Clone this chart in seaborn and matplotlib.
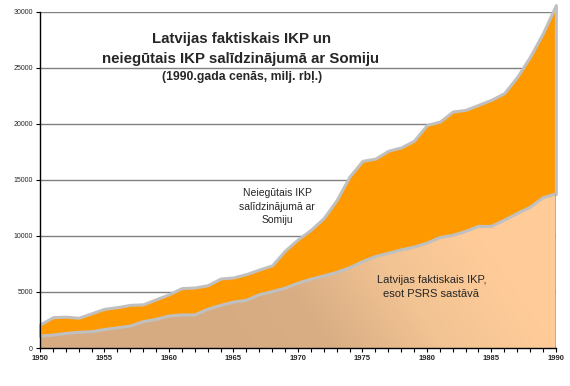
import numpy as np
import pandas as pd

import matplotlib
matplotlib.use("Agg")
import matplotlib.pyplot as plt
import seaborn as sns
from matplotlib.colors import LinearSegmentedColormap
from matplotlib.patches import Polygon

# ==========================================
# DATA (milj. rbl., 1990. gada cenas)
# ==========================================

years = list(range(1950, 1991))

# Latvijas faktiskais IKP, esot PSRS sastava
actual = [
    1070, 1150, 1300, 1400, 1450, 1650, 1800, 1950, 2350, 2550,
    2850, 2950, 2950, 3450, 3800, 4100, 4250, 4750, 5030, 5330,
    5780, 6130, 6430, 6750, 7150, 7700, 8150, 8450, 8750, 9000,
    9350, 9850, 10050, 10400, 10850, 10850, 11400, 12000, 12550, 13400,
    13750
]

# faktiskais + neiegutais IKP (salidzinajuma ar Somiju)
potential = [
    2100, 2750, 2800, 2700, 3100, 3500, 3650, 3850, 3900, 4350,
    4800, 5350, 5400, 5600, 6200, 6300, 6600, 7000, 7380, 8700,
    9700, 10550, 11600, 13200, 15300, 16700, 16900, 17600, 17900, 18500,
    19900, 20200, 21100, 21250, 21700, 22150, 22750, 24200, 26000, 28100,
    30600
]

y_ticks = [0, 5000, 10000, 15000, 20000, 25000, 30000]
x_ticks = [1950, 1955, 1960, 1965, 1970, 1975, 1980, 1985, 1990]

title_lines = [
    "Latvijas faktiskais IKP un",
    "neiegūtais IKP salīdzinājumā ar Somiju",
]
subtitle = "(1990.gada cenās, milj. rbļ.)"
label_gap = "Neiegūtais IKP\nsalīdzinājumā ar\nSomiju"
label_actual = "Latvijas faktiskais IKP,\nesot PSRS sastāvā"

df = pd.DataFrame({
    "year": years,
    "actual": actual,
    "potential": potential
})

# ==========================================
# FIGURE
# ==========================================

sns.set_style("white")
plt.rcParams["font.family"] = ["Liberation Sans", "DejaVu Sans"]

fig = plt.figure(figsize=(5.70, 3.86), dpi=100)

ax = fig.add_axes([0.0702, 0.0984, 0.905, 0.871])

edge = "#c0c0c0"

# grid
ax.set_axisbelow(True)
ax.yaxis.grid(True, color="#808080", linewidth=1.0)
ax.xaxis.grid(False)

# neiegutais IKP (orange band)
band = ax.fill_between(
    df["year"],
    df["actual"],
    df["potential"],
    facecolor="#ff9900",
    edgecolor=edge,
    linewidth=2.2,
    zorder=2
)
band.set_clip_on(False)

# faktiskais IKP with gradient fill
verts = (
    [(df["year"].iloc[0], 0)]
    + list(zip(df["year"], df["actual"]))
    + [(df["year"].iloc[-1], 0)]
)
poly = Polygon(verts, closed=True, facecolor="none", edgecolor="none")
ax.add_patch(poly)

cmap = LinearSegmentedColormap.from_list(
    "peach",
    ["#d6ab82", "#d9ae84", "#f2c393", "#ffcc99"]
)
gx, gy = np.meshgrid(np.linspace(0, 1, 300), np.linspace(0, 1, 200))
grad = np.clip((gx * 1.0 + gy * 0.45 - 0.35) / 0.65, 0, 1)
img = ax.imshow(
    grad,
    cmap=cmap,
    origin="lower",
    extent=[1950, 1990, 0, 30000],
    aspect="auto",
    zorder=3
)
img.set_clip_path(poly)

sns.lineplot(
    data=df,
    x="year",
    y="actual",
    color=edge,
    linewidth=2.2,
    ax=ax,
    zorder=4
)

ax.vlines(
    years[-1], 0, actual[-1],
    color="black", linewidth=1.0, zorder=5
)

# ==========================================
# AXES
# ==========================================

ax.set_xlim(1950, 1990)
ax.set_ylim(0, 30000)

ax.set_yticks(y_ticks)
ax.set_yticklabels([str(v) for v in y_ticks], fontsize=5)
ax.set_xticks(x_ticks)
ax.set_xticklabels([str(v) for v in x_ticks], fontsize=5.5,
                   fontweight="bold")
ax.set_xticks(years, minor=True)

ax.tick_params(axis="y", which="major", length=3, width=0.8,
               color="black", direction="out", pad=2, left=True)
ax.tick_params(axis="x", which="both", length=3, width=0.8,
               color="black", direction="out", pad=2, bottom=True)

ax.set_xlabel("")
ax.set_ylabel("")

for side in ["top", "right"]:
    ax.spines[side].set_visible(False)
for side in ["left", "bottom"]:
    ax.spines[side].set_color("black")
    ax.spines[side].set_linewidth(1.0)
    ax.spines[side].set_zorder(6)

# ==========================================
# TEXT
# ==========================================

fig.text(241 / 570, 1 - 39 / 386, title_lines[0], ha="center",
         va="center", fontsize=10.8, fontweight="bold")
fig.text(240 / 570, 1 - 59 / 386, title_lines[1], ha="center",
         va="center", fontsize=10.8, fontweight="bold")
fig.text(242 / 570, 1 - 77 / 386, subtitle, ha="center",
         va="center", fontsize=8.8, fontweight="bold")

ax.text(1968.4, 12600, label_gap, ha="center", va="center",
        fontsize=7.5, linespacing=1.45, zorder=7)
ax.text(1980.35, 5450, label_actual, ha="center", va="center",
        fontsize=8, linespacing=1.45, zorder=7)

plt.savefig("out.png", dpi=100)
plt.close()
